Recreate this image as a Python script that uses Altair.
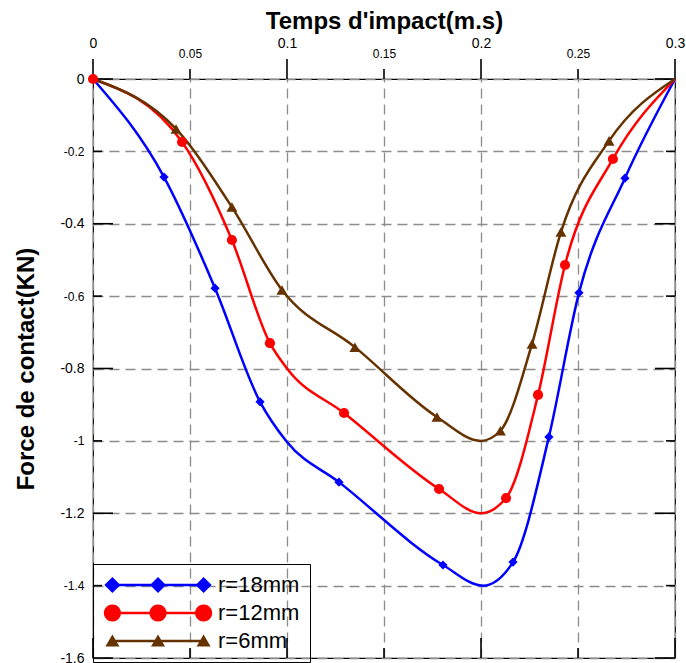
import math
import altair as alt
import pandas as pd

# ---------------- data ----------------
series = ["r=18mm", "r=12mm", "r=6mm"]
colors = ["#0000ff", "#ff0000", "#663300"]

x18 = [0, 0.0366, 0.0629, 0.0861, 0.1, 0.1268, 0.1804, 0.201, 0.2165, 0.235, 0.2505, 0.2742, 0.3]
y18 = [0, -0.271, -0.578, -0.892, -1.003, -1.114, -1.343, -1.40, -1.335, -0.989, -0.591, -0.274, 0]
m18 = [0, 1, 1, 1, 0, 1, 1, 0, 1, 1, 1, 1, 0]

x12 = [0, 0.0459, 0.0716, 0.0912, 0.1, 0.1294, 0.1784, 0.2, 0.2129, 0.2294, 0.2433, 0.268, 0.3]
y12 = [0, -0.174, -0.445, -0.730, -0.800, -0.923, -1.133, -1.20, -1.158, -0.873, -0.514, -0.221, 0]
m12 = [1, 1, 1, 1, 0, 1, 1, 0, 1, 1, 1, 1, 0]

x6 = [0, 0.0428, 0.0716, 0.0974, 0.135, 0.1773, 0.2, 0.210, 0.2263, 0.2412, 0.266, 0.3]
y6 = [0, -0.138, -0.354, -0.583, -0.741, -0.934, -1.00, -0.972, -0.732, -0.423, -0.171, 0]
m6 = [0, 1, 1, 1, 1, 1, 0, 1, 1, 1, 1, 0]

xticks_major = [0, 0.1, 0.2, 0.3]
xticks_minor = [0.05, 0.15, 0.25]
yticks_major = [0, -0.4, -0.8, -1.2, -1.6]
yticks_minor = [-0.2, -0.6, -1, -1.4]
xticks_all = [0, 0.05, 0.1, 0.15, 0.2, 0.25, 0.3]
yticks_all = [0, -0.2, -0.4, -0.6, -0.8, -1, -1.2, -1.4, -1.6]

rows = []
for name, xs, ys, ms in [(series[0], x18, y18, m18), (series[1], x12, y12, m12), (series[2], x6, y6, m6)]:
    for a, b, c in zip(xs, ys, ms):
        rows.append({"series": name, "x": a, "y": b, "m": c})
df = pd.DataFrame(rows)

# ---------------- styling ----------------
W, H = 582, 579
FONT = "Liberation Sans"
LABEL = "datum.value + ''"

SP = 11.4
def line_part():
    t = 0.3
    return f"M{-SP},{-t}L{SP},{-t}L{SP},{t}L{-SP},{t}Z"
def diamond(cx, r=2.0):
    return f"M{cx},{-r}L{cx + r},0L{cx},{r}L{cx - r},0Z"
def circle(cx, r=2.15, n=24):
    pts = [(cx + r * math.cos(2 * math.pi * k / n), r * math.sin(2 * math.pi * k / n)) for k in range(n)]
    return "M" + "L".join(f"{px:.3f},{py:.3f}" for px, py in pts) + "Z"
def tri(cx, w=1.75, top=-1.6, bot=1.4):
    return f"M{cx},{top}L{cx + w},{bot}L{cx - w},{bot}Z"
leg_paths = [
    line_part() + "".join(diamond(c) for c in (-SP, 0, SP)),
    line_part() + "".join(circle(c) for c in (-SP, 0, SP)),
    line_part() + "".join(tri(c) for c in (-SP, 0, SP)),
]

xscale = alt.Scale(domain=[0, 0.3], nice=False, zero=False)
yscale = alt.Scale(domain=[-1.6, 0], nice=False, zero=False)
cscale = alt.Scale(domain=series, range=colors)

lab_kw = dict(labelExpr=LABEL, labelFont=FONT, labelColor="black", labelFlush=False, labelOverlap=False,
              domain=False, grid=False, ticks=False)
title_kw = dict(titleFont=FONT, titleFontSize=24, titleFontWeight="bold", titleColor="black",
                titleBaseline="alphabetic")

top_major = alt.Axis(orient="top", values=xticks_major, labelFontSize=14, labelPadding=29,
                     title="Temps d'impact(m.s)", titleY=-51, **title_kw, **lab_kw)
top_minor = alt.Axis(orient="top", values=xticks_minor, labelFontSize=12, labelPadding=19,
                     title=None, **lab_kw)
left_major = alt.Axis(orient="left", values=yticks_major, labelFontSize=14, labelPadding=9,
                      title="Force de contact(KN)", titleX=-60, **title_kw, **lab_kw)
left_minor = alt.Axis(orient="left", values=yticks_minor, labelFontSize=12, labelPadding=9,
                      title=None, **lab_kw)
grid_x = alt.Axis(orient="top", values=xticks_all, labels=False, ticks=False, domain=False, title=None,
                  grid=True, gridDash=[10, 6], gridColor="#8c8c8c", gridWidth=1.3)
grid_y = alt.Axis(orient="left", values=yticks_all, labels=False, ticks=False, domain=False, title=None,
                  grid=True, gridDash=[10, 6], gridColor="#8c8c8c", gridWidth=1.3)

legend = alt.Legend(
    orient="none", legendX=0, legendY=485, title=None, strokeColor="black",
    padding=10, symbolSize=64, symbolStrokeWidth=0, symbolOffset=44, labelOffset=49,
    labelFontSize=22, labelFont=FONT, labelColor="black", rowPadding=6)

grid_layer = alt.Chart(df).transform_filter("false").mark_point().encode(
    x=alt.X("x:Q", scale=xscale, axis=grid_x),
    y=alt.Y("y:Q", scale=yscale, axis=grid_y),
)

lines = alt.Chart(df).mark_line(interpolate="monotone", strokeWidth=2.5).encode(
    x=alt.X("x:Q", scale=xscale, axis=top_major),
    y=alt.Y("y:Q", scale=yscale, axis=left_major),
    color=alt.Color("series:N", scale=cscale, legend=None),
)

markers = alt.Chart(df).transform_filter("datum.m == 1").mark_point(filled=True, opacity=1).encode(
    x=alt.X("x:Q", scale=xscale, axis=top_minor),
    y=alt.Y("y:Q", scale=yscale, axis=left_minor),
    color=alt.Color("series:N", scale=cscale, legend=None),
    shape=alt.Shape("series:N", scale=alt.Scale(domain=series, range=["diamond", "circle", "triangle-up"]), legend=None),
    size=alt.Size("series:N", scale=alt.Scale(domain=series, range=[85, 121, 81]), legend=None),
)

leg = alt.Chart(df).transform_filter("false").mark_point(filled=True, opacity=1, size=64).encode(
    x=alt.X("x:Q", scale=xscale, axis=None),
    y=alt.Y("y:Q", scale=yscale, axis=None),
    color=alt.Color("series:N", scale=cscale, legend=legend),
    shape=alt.Shape("series:N", scale=alt.Scale(domain=series, range=leg_paths), legend=legend),
)

# tick marks (outward on top, inward on bottom/left/right), positioned by the scales
def xticks_layer(values, y0, y1):
    return alt.Chart(pd.DataFrame({"v": values})).mark_rule(color="black", strokeWidth=1.6, opacity=1).encode(
        x=alt.X("v:Q", scale=xscale, axis=None), y=alt.value(y0), y2=alt.value(y1))
def yticks_layer(values, x0, x1):
    return alt.Chart(pd.DataFrame({"v": values})).mark_rule(color="black", strokeWidth=1.6, opacity=1).encode(
        y=alt.Y("v:Q", scale=yscale, axis=None), x=alt.value(x0), x2=alt.value(x1))

tick_layers = [
    xticks_layer(xticks_major, -20, 0),
    xticks_layer(xticks_minor, -10, 0),
    xticks_layer(xticks_major, H - 20, H),
    xticks_layer(xticks_minor, H - 10, H),
    yticks_layer(yticks_major, 0, 20),
    yticks_layer(yticks_minor, 0, 9),
    yticks_layer(yticks_major, W - 20, W),
    yticks_layer(yticks_minor, W - 9, W),
]

chart = alt.layer(grid_layer, *tick_layers, lines, markers, leg).resolve_scale(
    color="independent", shape="independent"
).resolve_axis(x="independent", y="independent").properties(
    width=W, height=H,
    padding={"left": 93, "top": 79, "right": 11, "bottom": 5},
    autosize=alt.AutoSizeParams(type="none"),
    background="white",
).configure_view(stroke="black", strokeWidth=1.2)

chart.save("out.html", embed_options={"renderer": "svg", "actions": False})
